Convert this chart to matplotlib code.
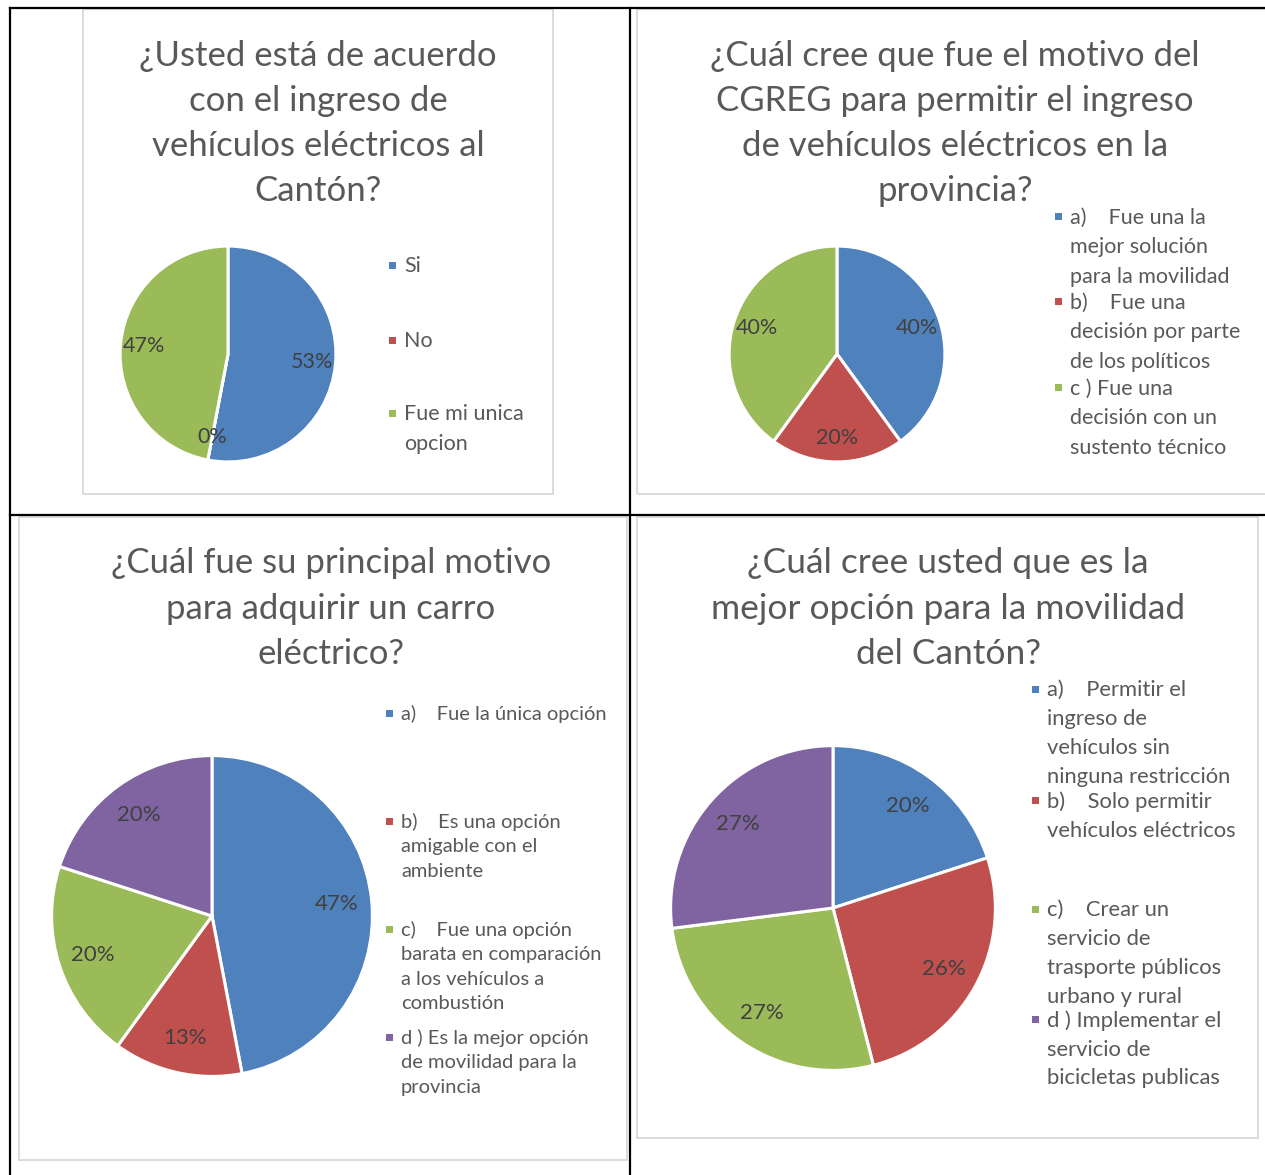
import matplotlib
matplotlib.use("Agg")
import matplotlib.pyplot as plt
from matplotlib.lines import Line2D
from matplotlib.patches import Rectangle

W, H = 1265, 1175
FONT = "Lato"
plt.rcParams['font.family'] = [FONT, 'DejaVu Sans']

COLORS = ["#4F81BD", "#C0504D", "#9BBB59", "#8064A2"]

# ---- data ----
title1 = ["¿Usted está de acuerdo", "con el ingreso de", "vehículos eléctricos al", "Cantón?"]
labels1 = ["Si", "No", "Fue mi unica\nopcion"]
values1 = [53, 0, 47]

title2 = ["¿Cuál cree que fue el motivo del", "CGREG para permitir el ingreso",
          "de vehículos eléctricos en la", "provincia?"]
labels2 = ["a)    Fue una la\nmejor solución\npara la movilidad",
           "b)    Fue una\ndecisión por parte\nde los políticos",
           "c ) Fue una\ndecisión con un\nsustento técnico"]
values2 = [40, 20, 40]

title3 = ["¿Cuál fue su principal motivo", "para adquirir un carro", "eléctrico?"]
labels3 = ["a)    Fue la única opción",
           "b)    Es una opción\namigable con el\nambiente",
           "c)    Fue una opción\nbarata en comparación\na los vehículos a\ncombustión",
           "d ) Es la mejor opción\nde movilidad para la\nprovincia"]
values3 = [47, 13, 20, 20]

title4 = ["¿Cuál cree usted que es la", "mejor opción para la movilidad", "del Cantón?"]
labels4 = ["a)    Permitir el\ningreso de\nvehículos sin\nninguna restricción",
           "b)    Solo permitir\nvehículos eléctricos",
           "c)    Crear un\nservicio de\ntrasporte públicos\nurbano y rural",
           "d ) Implementar el\nservicio de\nbicicletas publicas"]
values4 = [20, 26, 27, 27]

fig = plt.figure(figsize=(W / 100, H / 100), dpi=100)
fig.patch.set_facecolor("white")


def fx(x):
    return x / W


def fy(y):
    return 1 - y / H


# table borders
for (x0, y0, x1, y1) in [(10, 8, 1265, 8), (10, 8, 10, 1175), (630, 8, 630, 1175), (10, 515, 1265, 515)]:
    fig.add_artist(Line2D([fx(x0), fx(x1)], [fy(y0), fy(y1)], color="black", lw=1.6))

# chart boxes
for (x0, y0, x1, y1) in [(83, 9, 553, 494), (637, 9, 1268, 494), (19, 517, 627, 1160), (637, 517, 1258, 1138)]:
    fig.add_artist(Rectangle((fx(x0), fy(y1)), fx(x1) - fx(x0), (y1 - y0) / H,
                             fill=False, edgecolor="#D9D9D9", lw=1.3))


def draw_chart(title, tx, ty, tsize, values, cx, cy, r, labels, lx, lcenters, lsize, lspacing, psize):
    for i, line in enumerate(title):
        fig.text(fx(tx), fy(ty[i]), line, ha="center", va="center", fontsize=tsize, color="#595959")
    ax = fig.add_axes([fx(cx - r), fy(cy + r), 2 * r / W, 2 * r / H])
    ax.pie(values, colors=COLORS[:len(values)], startangle=90, counterclock=False,
           wedgeprops=dict(edgecolor="white", linewidth=2.2), radius=1,
           autopct=lambda p: f"{p:.0f}%", pctdistance=0.78,
           textprops=dict(fontsize=psize, color="#404040"))
    ax.set_xlim(-1.01, 1.01)
    ax.set_ylim(-1.01, 1.01)
    ax.axis("off")
    off = lsize * 1.389 * 0.40
    for i, lab in enumerate(labels):
        c = lcenters[i]
        fig.add_artist(Rectangle((fx(lx - 15), fy(c + 3.5)), 7 / W, 7 / H,
                                 facecolor=COLORS[i], edgecolor="none"))
        fig.text(fx(lx), fy(c - off), lab, ha="left", va="top", fontsize=lsize,
                 color="#595959", linespacing=lspacing)


draw_chart(title1, 318, [56, 101, 146, 191], 25, values1, 228, 354, 109,
           labels1, 404, [265, 340, 413], 15.5, 1.6, 15.5)
draw_chart(title2, 955, [56, 101, 146, 191], 25, values2, 837, 354, 109,
           labels2, 1070, [216, 301, 387], 15.5, 1.6, 15.5)
draw_chart(title3, 331, [563, 609, 654], 25, values3, 212, 916, 162,
           labels3, 401, [713, 821, 929, 1037], 14.5, 1.53, 16)
draw_chart(title4, 948, [563, 609, 654], 25.5, values4, 833, 908, 164,
           labels4, 1047, [689, 800, 909, 1019], 15.8, 1.55, 16)

fig.savefig("out.png", dpi=100, facecolor="white")
